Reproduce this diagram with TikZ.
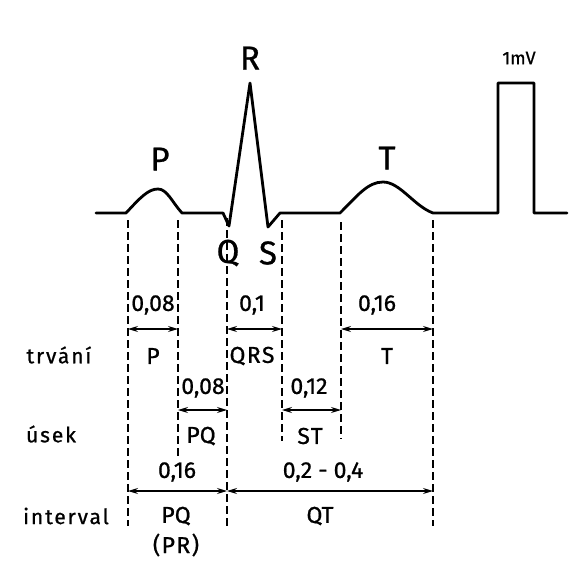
\documentclass[tikz,border=0pt]{standalone}
\usepackage{fontspec}
\setmainfont[FakeBold=0.8]{Fira Sans}
\newfontfamily\spacedfont[LetterSpace=9,FakeBold=0.8]{Fira Sans}
\newfontfamily\widefont[LetterSpace=6,FakeBold=0.8]{Fira Sans}
\usetikzlibrary{arrows.meta}
\begin{document}
\begin{tikzpicture}[x=1pt,y=-1pt,
  trace/.style={line width=2.8pt,line join=round,line cap=round},
  guide/.style={line width=1.2pt,dash pattern=on 7.5pt off 4.5pt},
  dim/.style={line width=1.1pt,{Stealth[length=10pt,width=6pt]}-{Stealth[length=10pt,width=6pt]}},
  big/.style={font=\fontsize{33}{33}\selectfont,inner sep=0pt},
  lab/.style={font=\fontsize{23}{23}\selectfont,inner sep=0pt},
  wlab/.style={font=\widefont\fontsize{23}{23}\selectfont,inner sep=0pt},
  rowlab/.style={font=\spacedfont\fontsize{21}{21}\selectfont,inner sep=0pt}]
\useasboundingbox (0,0) rectangle (587,582);
\fill[white] (0,0) rectangle (587,582);
% ECG trace
\draw[trace] (96,213) -- (126,213) .. controls (140,198) and (148,189) .. (158,189)
  .. controls (167,189) and (172,202) .. (182,213) -- (223,213) -- (229,226) -- (250,83)
  -- (268,227) -- (280,213) -- (340,213) .. controls (358,195) and (368,182) .. (383,182)
  .. controls (400,182) and (414,206) .. (433,213) -- (498,213) -- (498,83) -- (534,83)
  -- (534,213) -- (567,213);
% wave labels
\node[big] (R) at (250,58) {R};
\node[big] (P) at (160,159) {P};
\node[big] (T) at (387,158) {T};
\node[big] (Q) at (228,253) {Q};
\node[big] (S) at (268,253) {S};
\node[font=\fontsize{18}{18}\selectfont,inner sep=0pt] (mv) at (519,58) {1mV};
% guide coordinates
\coordinate (a1) at (128,220); \coordinate (a2) at (128,526);
\coordinate (b1) at (178,220); \coordinate (b2) at (178,460);
\coordinate (c1) at (227,218); \coordinate (c2) at (227,526);
\coordinate (d1) at (282,220); \coordinate (d2) at (282,441);
\coordinate (e1) at (341,222); \coordinate (e2) at (341,439);
\coordinate (f1) at (433,220); \coordinate (f2) at (433,526);
\draw[guide] (a1) -- (a2);
\draw[guide] (b1) -- (b2);
\draw[guide] (c1) -- (c2);
\draw[guide] (d1) -- (d2);
\draw[guide] (e1) -- (e2);
\draw[guide] (f1) -- (f2);
% trvani row
\coordinate (p1) at (128,329); \coordinate (p2) at (178,329);
\coordinate (q1) at (227,329); \coordinate (q2) at (282,329);
\coordinate (t1) at (341,329); \coordinate (t2) at (433,329);
\draw[dim] (p1) -- (p2);
\draw[dim] (q1) -- (q2);
\draw[dim] (t1) -- (t2);
\node[lab] (v1) at (153,305) {0,08};
\node[lab] (v2) at (252,305) {0,1};
\node[lab] (v3) at (377,305) {0,16};
\node[lab] (n1) at (153,356) {P};
\node[wlab] (n2) at (252,356) {QRS};
\node[lab] (n3) at (387,356) {T};
\node[rowlab] (trv) at (59,355) {trvání};
% usek row
\coordinate (s1) at (178,410); \coordinate (s2) at (227,410);
\coordinate (s3) at (282,410); \coordinate (s4) at (341,410);
\draw[dim] (s1) -- (s2);
\draw[dim] (s3) -- (s4);
\node[lab] (v4) at (203,388) {0,08};
\node[lab] (v5) at (309,388) {0,12};
\node[lab] (n4) at (201,436) {PQ};
\node[wlab] (n5) at (310,436) {ST};
\node[rowlab] (us) at (51,434) {úsek};
% interval row
\coordinate (i1) at (128,491); \coordinate (i2) at (227,491); \coordinate (i3) at (433,491);
\draw[dim] (i1) -- (i2);
\draw[dim] (i2) -- (i3);
\node[lab] (v6) at (177,472) {0,16};
\node[lab] (v7) at (323,472) {0,2 - 0,4};
\node[lab] (n6) at (176,516) {PQ};
\node[wlab] (n7) at (176,545) {(PR)};
\node[lab] (n8) at (320,516) {QT};
\node[rowlab] (int) at (66,516) {interval};
\end{tikzpicture}
\end{document}
